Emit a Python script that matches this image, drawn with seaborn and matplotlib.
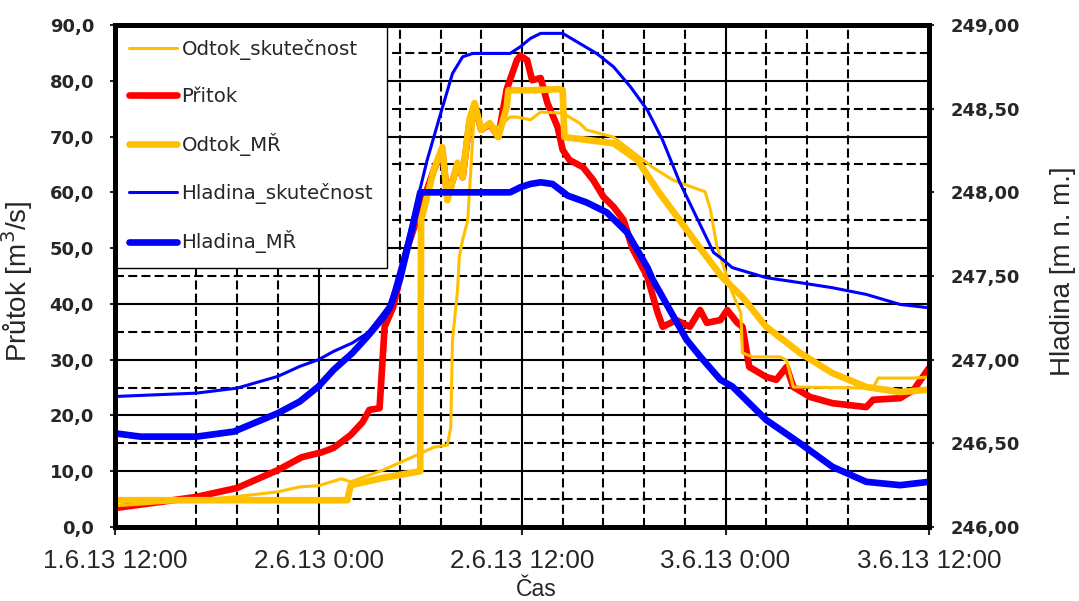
import matplotlib
matplotlib.use("Agg")
import matplotlib.pyplot as plt
import seaborn as sns

# ---------------- data (x = hours since 1.6.13 12:00) ----------------
x_tick_hours = [0, 12, 24, 36, 48]
x_tick_labels = ["1.6.13 12:00", "2.6.13 0:00", "2.6.13 12:00", "3.6.13 0:00", "3.6.13 12:00"]
x_minor_hours = [4.8, 7.2, 9.6, 16.8, 19.2, 21.6, 26.4, 28.8, 31.2, 33.6, 38.4, 40.8, 43.2]

y_ticks = [0, 10, 20, 30, 40, 50, 60, 70, 80, 90]
y_tick_labels = ["0,0", "10,0", "20,0", "30,0", "40,0", "50,0", "60,0", "70,0", "80,0", "90,0"]
y_minor = [5, 15, 25, 35, 45, 55, 65, 75, 85]

y2_ticks = [246.0, 246.5, 247.0, 247.5, 248.0, 248.5, 249.0]
y2_tick_labels = ["246,00", "246,50", "247,00", "247,50", "248,00", "248,50", "249,00"]

# Odtok_skutecnost (thin orange)
odtok_sk_h = [0, 4.8, 7.0, 9.6, 10.9, 12.0, 13.3, 13.4, 13.9, 15.8, 17.8, 18.8, 19.6, 19.8, 19.9,
              20.2, 20.3, 20.5, 20.8, 20.9, 21.2, 21.6, 22.1, 22.6, 23.3, 23.7, 24.5, 25.1, 26.4, 27.4,
              27.8, 29.4, 30.5, 31.7, 32.9, 33.7, 34.8, 35.1, 35.5, 35.7, 36.4, 36.9, 37.0, 37.6, 39.2,
              39.6, 40.0, 44.7, 45.0, 47.1, 48.0]
odtok_sk_v = [3.8, 4.8, 5.4, 6.3, 7.2, 7.4, 8.6, 8.6, 8.1, 10.2, 12.9, 14.3, 14.7, 17.9, 33.5,
              42.5, 48.4, 51.5, 55, 60, 75, 71, 72, 71.7, 73.5, 73.5, 73, 74.4, 74.2, 72.4,
              71.2, 69.9, 67.3, 64.5, 62.2, 61.3, 60.1, 57, 50.2, 48.4, 42, 38.4, 31.2, 30.5, 30.5,
              29.9, 25.1, 24.9, 26.7, 26.7, 26.9]

# Pritok (thick red)
pritok_h = [0, 2.7, 4.8, 7.2, 9.6, 11.0, 12.2, 12.9, 13.9, 14.6, 15.0, 15.6, 15.9, 16.4, 17.2, 18.0,
            18.8, 19.3, 19.6, 20.2, 20.5, 20.9, 21.2, 21.6, 22.1, 22.6, 23.1, 23.7, 23.9, 24.3, 24.6,
            25.1, 25.5, 26.1, 26.4, 26.8, 27.6, 28.2, 28.8, 29.4, 30.0, 30.5, 31.4, 32.0, 32.3, 33.1,
            33.9, 34.5, 34.9, 35.7, 36.1, 36.7, 37.0, 37.4, 38.4, 39.0, 39.6, 40.0, 41.0, 42.3, 44.3,
            44.7, 46.3, 47.1, 48.0]
pritok_v = [3.4, 4.5, 5.4, 7.0, 10.2, 12.5, 13.4, 14.2, 16.5, 18.8, 21.0, 21.3, 35.9, 39.4, 49.7, 57,
            64, 67.5, 59, 65, 62.7, 72.5, 75.5, 71.2, 72.2, 70, 78.5, 83.7, 84.5, 83.7, 80.1,
            80.5, 76, 71.7, 67.6, 65.8, 64.5, 62.2, 59.2, 57.4, 55, 50, 44.8, 38.4, 35.9, 37.1,
            35.9, 38.9, 36.6, 37.1, 38.9, 36.6, 35.9, 28.7, 26.9, 26.4, 28.7, 25.1, 23.3, 22.2, 21.5,
            22.8, 23.1, 24.6, 28.5]

# Odtok_MR (thick orange)
odtok_mr_h = [0, 13.7, 13.9, 15.8, 18.0, 18.05, 18.8, 19.3, 19.6, 20.2, 20.5, 20.9, 21.2, 21.6, 22.1,
              22.6, 23.1, 23.2, 24.5, 26.2, 26.4, 26.5, 29.4, 30.8, 32.1, 33.3, 34.5, 35.8, 37.0, 38.4,
              40.4, 42.3, 44.3, 46.3, 48.0]
odtok_mr_v = [4.8, 4.8, 7.5, 8.8, 10.0, 55, 64, 68.1, 58.6, 65.3, 62.7, 73, 76, 71.2, 72.4,
              69.9, 75.3, 78.3, 78.3, 78.5, 78.3, 69.9, 68.8, 65.8, 59.9, 55, 50, 44.8, 41.2, 35.9,
              31.2, 27.6, 25.1, 24.2, 24.6]

# Hladina_skutecnost (thin blue, m n. m.)
hl_sk_h = [0, 4.8, 7.2, 9.6, 10.9, 12.0, 12.9, 14.0, 14.9, 15.6, 16.2, 17.0, 17.7, 18.4, 19.2, 19.9,
           20.5, 21.1, 23.3, 23.9, 24.5, 25.1, 26.4, 27.4, 28.4, 29.4, 30.4, 31.4, 32.3, 33.3, 34.3,
           35.3, 35.7, 36.4, 38.4, 40.4, 42.3, 44.3, 46.3, 48.0]
hl_sk_v = [246.78, 246.80, 246.83, 246.90, 246.96, 247.00, 247.05, 247.10, 247.16, 247.25, 247.33,
           247.62, 247.90, 248.19, 248.47, 248.71, 248.81, 248.83, 248.83, 248.87, 248.92, 248.95,
           248.95, 248.89, 248.83, 248.75, 248.63, 248.49, 248.31, 248.06, 247.85, 247.64, 247.61,
           247.55, 247.49, 247.46, 247.43, 247.39, 247.33, 247.31]

# Hladina_MR (thick blue, m n. m.)
hl_mr_h = [0, 1.5, 3.1, 4.8, 7.0, 9.6, 10.9, 12.0, 12.9, 14.0, 14.9, 15.8, 16.2, 16.8, 17.4, 18.0,
           23.3, 23.9, 24.5, 25.1, 25.8, 26.7, 27.8, 29.0, 30.2, 31.4, 31.7, 32.7, 33.7, 34.5, 35.7,
           36.4, 37.4, 38.4, 40.4, 42.3, 44.3, 46.3, 48.0]
hl_mr_v = [246.56, 246.54, 246.54, 246.54, 246.57, 246.68, 246.75, 246.84, 246.94, 247.04, 247.14,
           247.25, 247.31, 247.48, 247.73, 248.00, 248.00, 248.03, 248.05, 248.06, 248.05, 247.98,
           247.94, 247.88, 247.76, 247.55, 247.48, 247.30, 247.12, 247.02, 246.88, 246.84, 246.74,
           246.64, 246.50, 246.36, 246.27, 246.25, 246.27]

ORANGE = "#FFC000"
RED = "#FF0000"
BLUE = "#0000FF"

sns.set_style("ticks")
plt.rcParams["font.family"] = ["DejaVu Sans"]
plt.rcParams["lines.scale_dashes"] = False

fig = plt.figure(figsize=(10.79, 6.01), dpi=100)
ax = fig.add_axes([115 / 1079, 1 - 527 / 601, 814 / 1079, 502 / 601])
ax2 = ax.twinx()

THICK = 4.8
THIN = 2.2
kw = dict(sort=False, estimator=None)
sns.lineplot(x=pritok_h, y=pritok_v, ax=ax, color=RED, lw=THICK, label="Přitok", **kw)
sns.lineplot(x=odtok_mr_h, y=odtok_mr_v, ax=ax, color=ORANGE, lw=THICK, label="Odtok_MŘ", **kw)
sns.lineplot(x=odtok_sk_h, y=odtok_sk_v, ax=ax, color=ORANGE, lw=THIN, label="Odtok_skutečnost", **kw)
sns.lineplot(x=hl_mr_h, y=hl_mr_v, ax=ax2, color=BLUE, lw=THICK, label="Hladina_MŘ", **kw)
sns.lineplot(x=hl_sk_h, y=hl_sk_v, ax=ax2, color=BLUE, lw=THIN, label="Hladina_skutečnost", **kw)
for a in (ax, ax2):
    if a.get_legend() is not None:
        a.get_legend().remove()

ax.set_xlim(0, 48)
ax.set_ylim(0, 90)
ax2.set_ylim(246, 249)

# x axis
ax.set_xticks(x_tick_hours)
ax.set_xticklabels(x_tick_labels, fontfamily="Liberation Sans", fontsize=18.7)
ax.set_xticks(x_minor_hours, minor=True)
ax.tick_params(axis="x", which="major", direction="out", length=5.8, width=1.5, pad=10)
ax.tick_params(axis="x", which="minor", length=0)

# left y axis
ax.set_yticks(y_ticks)
ax.set_yticklabels(y_tick_labels, fontfamily="DejaVu Sans", fontweight="bold", fontsize=13)
ax.set_yticks(y_minor, minor=True)
ax.tick_params(axis="y", which="major", direction="out", length=3.6, width=1.5, pad=11.5)
ax.tick_params(axis="y", which="minor", length=0)

# right y axis
ax2.set_yticks(y2_ticks)
ax2.set_yticklabels(y2_tick_labels, fontfamily="DejaVu Sans", fontweight="bold", fontsize=13)
ax2.tick_params(axis="y", direction="out", length=3.6, width=1.5, pad=12)

# grid
ax.grid(True, which="major", axis="both", color="black", lw=1.5, ls="-")
ax.grid(True, which="minor", axis="both", color="black", lw=1.5, ls=(0, (6.5, 3.0)))
ygl = ax.get_ygridlines()
ygl[6].set_visible(False)
ax.set_axisbelow(True)

# spines
for s in ax.spines.values():
    s.set_visible(False)
for s in ax2.spines.values():
    s.set_visible(True)
    s.set_linewidth(3.6)
    s.set_color("black")
    s.set_zorder(6)

# labels
ax.set_xlabel("Čas", fontfamily="Liberation Sans", fontsize=16.5)
ax.xaxis.set_label_coords(0.517, (527 - 596) / 502)
ax.xaxis.label.set_va("baseline")
ax.set_ylabel("Průtok [m$^3$/s]", fontfamily="Liberation Sans", fontsize=20)
ax.yaxis.set_label_coords(-0.098, 0.49)
ax2.set_ylabel("Hladina [m n. m.]", fontfamily="Liberation Sans", fontsize=20)
ax2.yaxis.set_label_coords(1.149, 0.51)

# legend
h1, l1 = ax.get_legend_handles_labels()
h2, l2 = ax2.get_legend_handles_labels()
hd = dict(zip(l1 + l2, h1 + h2))
order = ["Odtok_skutečnost", "Přitok", "Odtok_MŘ", "Hladina_skutečnost", "Hladina_MŘ"]
leg = ax2.legend([hd[k] for k in order], order, loc="upper left", bbox_to_anchor=(0, 1),
                 borderaxespad=0, frameon=True, fancybox=False, framealpha=1,
                 edgecolor="black", prop={"family": "DejaVu Sans", "size": 14.2},
                 handlelength=2.4, handletextpad=0.25, labelspacing=1.36, borderpad=0.72)
leg.get_frame().set_linewidth(1.0)
leg.set_zorder(5)

fig.savefig("out.png", dpi=100)
